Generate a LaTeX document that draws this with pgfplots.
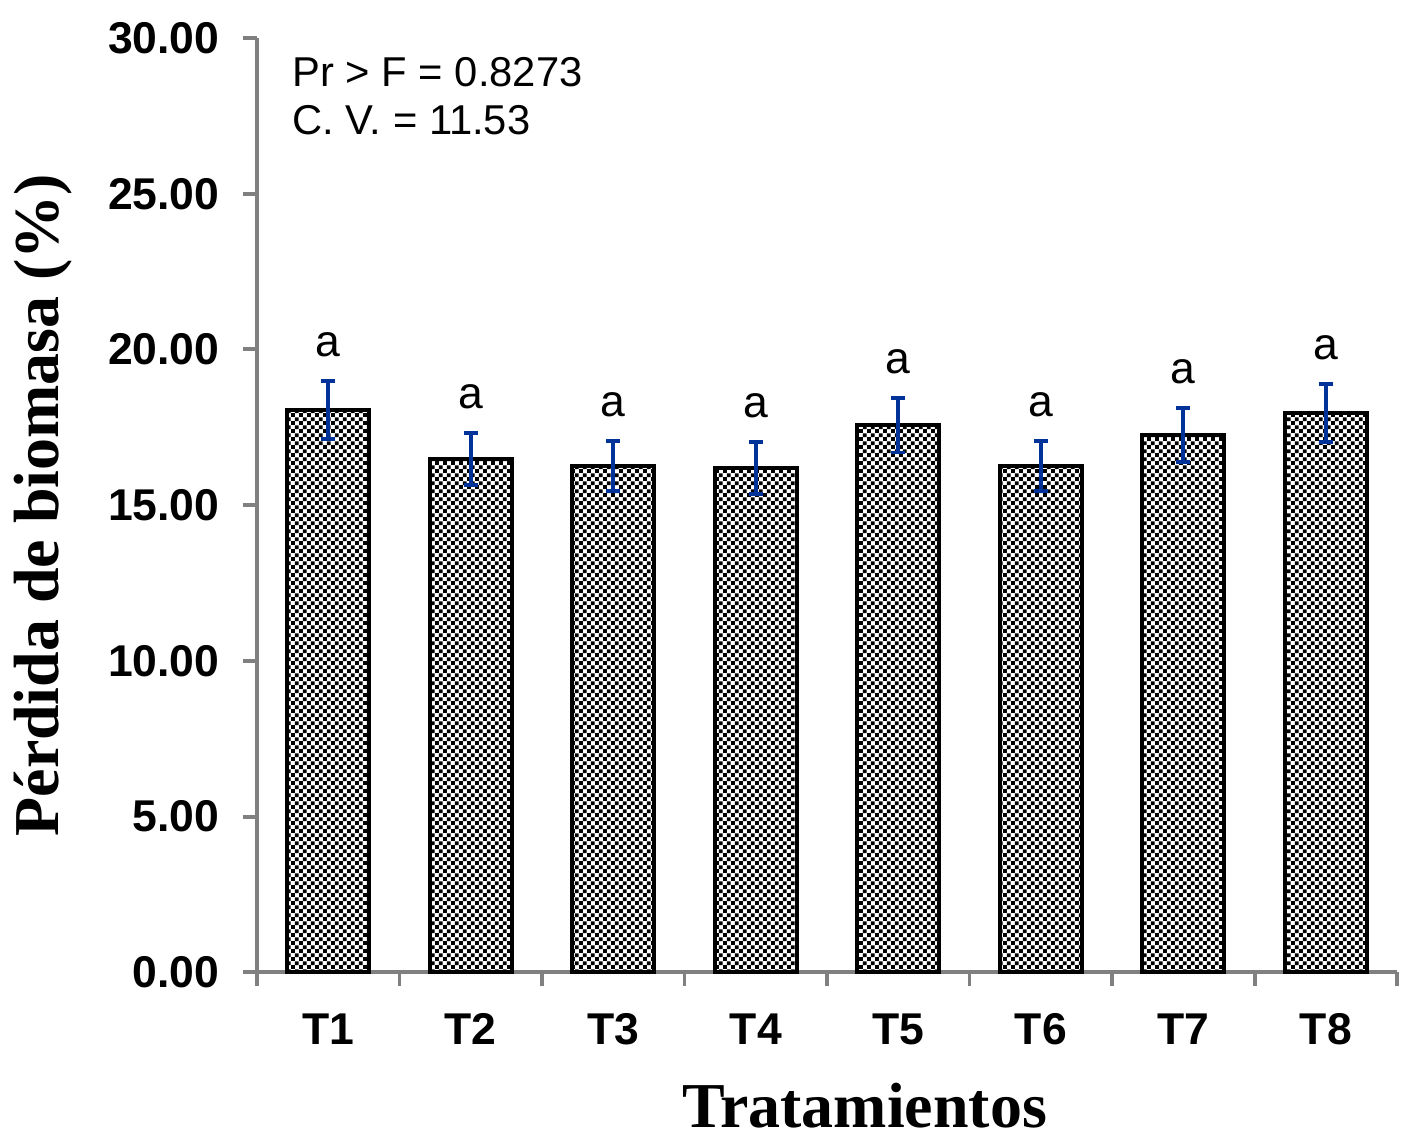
\documentclass[border=0pt]{standalone}
\usepackage{pgfplots}
\pgfplotsset{compat=1.18}
\usepackage{pgfplotstable}
\usepackage{fontspec}
\setmainfont{Liberation Sans}
\newfontfamily\timesfont{Liberation Serif}
\usetikzlibrary{patterns.meta}

\definecolor{axisgray}{RGB}{128,128,128}
\definecolor{errblue}{RGB}{0,51,153}

\tikzdeclarepattern{
  name=finecheck, type=uncolored,
  bottom left={(0,0)}, top right={(3pt,3pt)},
  tile size={(3pt,3pt)},
  code={\fill (0,0) rectangle (1.5pt,1.5pt);
        \fill (1.5pt,1.5pt) rectangle (3pt,3pt);}
}

\pgfplotstableread{
x y e
1 18.05 0.93
2 16.48 0.84
3 16.25 0.80
4 16.19 0.83
5 17.57 0.88
6 16.25 0.80
7 17.25 0.87
8 17.96 0.93
}\perdida

\begin{document}
\begin{tikzpicture}
\begin{axis}[
  scale only axis,
  width=410pt, height=336pt,
  xmin=0.5, xmax=8.5,
  ymin=0, ymax=30,
  clip=false,
  axis x line*=bottom, axis y line*=left,
  axis line style={draw=axisgray, line width=1.4pt},
  tick align=outside,
  major tick length=5pt,
  tick style={draw=axisgray, line width=1.4pt},
  xtick={0.5,1.5,...,8.5},
  xticklabels={},
  extra x ticks={1,2,...,8},
  extra x tick labels={T1,T2,T3,T4,T5,T6,T7,T8},
  extra x tick style={major tick length=0pt},
  xticklabel style={font=\fontsize{16}{16}\selectfont\bfseries, anchor=north,
    text height=12pt, text depth=0pt, yshift=-10.5pt},
  ytick={0,5,...,30},
  yticklabel style={font=\fontsize{16}{16}\selectfont\bfseries, xshift=-5pt},
  /pgf/number format/.cd, fixed, fixed zerofill, precision=2, assume math mode=true,
  /pgfplots/.cd,
  ylabel={P\'erdida de biomasa (\%)},
  xlabel={Tratamientos},
  every axis y label/.style={at={(axis description cs:-0.1877,0.5)}, anchor=center, rotate=90,
    font=\timesfont\fontsize{23}{23}\selectfont\bfseries},
  every axis x label/.style={at={(axis description cs:0.533,-0.143)}, anchor=center,
    font=\timesfont\fontsize{23}{23}\selectfont\bfseries},
]
\addplot[ybar, bar width=29.5pt, draw=black, line width=1.4pt,
  pattern=finecheck, pattern color=black,
  error bars/.cd, y dir=both, y explicit,
  error bar style={draw=errblue, line width=1.4pt},
  error mark options={rotate=90, mark size=2.5pt, draw=errblue, line width=1.4pt}]
  table[x=x, y=y, y error=e] {\perdida};
\addplot[draw=none, mark=none, nodes near coords={a},
  nodes near coords style={anchor=south, inner sep=0pt, yshift=8.5pt,
    font=\fontsize{16}{16}\selectfont}]
  table[x=x, y expr=\thisrow{y}+\thisrow{e}] {\perdida};
\node[anchor=north west, inner sep=0pt, align=left,
  font=\fontsize{15}{17.3}\selectfont] at (axis cs:0.746,29.39)
  {Pr > F = 0.8273\\C. V. = 11.53};
\path (axis cs:-1.3035,-5.49) rectangle (axis cs:8.647,31.22);
\end{axis}
\end{tikzpicture}
\end{document}
